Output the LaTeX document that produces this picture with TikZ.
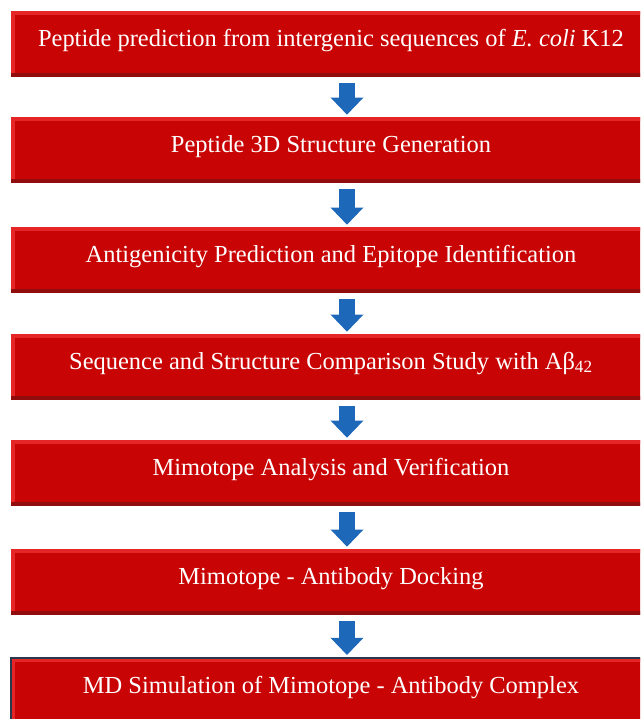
\documentclass[tikz,border=0pt]{standalone}
\usepackage{fontspec}
\setmainfont{Liberation Serif}
\usepackage{tikz}
\usetikzlibrary{arrows.meta, positioning, calc}
\definecolor{boxred}{RGB}{201,4,4}
\definecolor{boxlight}{RGB}{228,38,38}
\definecolor{boxdark}{RGB}{145,12,12}
\definecolor{arrowblue}{RGB}{30,104,186}
\definecolor{edgeblue}{RGB}{42,56,78}
\tikzset{
  stepbox/.style={
    rectangle, fill=boxred, text=white,
    minimum width=16cm, minimum height=1.65cm, inner sep=0pt,
    text height=0.7em, text depth=0.38em, align=center,
    path picture={
      \fill[boxlight] (path picture bounding box.north west) rectangle ([yshift=-0.11cm]path picture bounding box.north east);
      \fill[boxlight] (path picture bounding box.north west) rectangle ([xshift=0.1cm]path picture bounding box.south west);
      \fill[boxdark] (path picture bounding box.south west) rectangle ([yshift=0.09cm]path picture bounding box.south east);
    }
  },
  flowarrow/.style={
    draw=arrowblue, line width=0.4cm,
    -{Triangle[width=0.8cm, length=0.43cm]},
    shorten <=0.15cm, shorten >=0.05cm
  }
}
\begin{document}
\begin{tikzpicture}[x=0.025cm, y=-0.025cm, font=\fontsize{17.4pt}{20pt}\selectfont]
  \useasboundingbox (0,0) rectangle (640,719);
  \clip (0,0) rectangle (640,719);

  \node[stepbox] (s1) at (331,44) {Peptide prediction from intergenic sequences of \textit{E. coli} K12};
  \node[stepbox] (s2) at (331,150) {Peptide 3D Structure Generation};
  \node[stepbox] (s3) at (331,260) {Antigenicity Prediction and Epitope Identification};
  \node[stepbox] (s4) at (331,367) {Sequence and Structure Comparison Study with Aβ\textsubscript{42}};
  \node[stepbox] (s5) at (331,473) {Mimotope Analysis and Verification};
  \node[stepbox] (s6) at (331,582) {Mimotope - Antibody Docking};
  \node[stepbox, draw=edgeblue, line width=0.05cm] (s7) at (331,691) {MD Simulation of Mimotope - Antibody Complex};

  \draw[flowarrow] ([xshift=0.4cm]s1.south) -- ([xshift=0.4cm]s2.north);
  \draw[flowarrow] ([xshift=0.4cm]s2.south) -- ([xshift=0.4cm]s3.north);
  \draw[flowarrow] ([xshift=0.4cm]s3.south) -- ([xshift=0.4cm]s4.north);
  \draw[flowarrow] ([xshift=0.4cm]s4.south) -- ([xshift=0.4cm]s5.north);
  \draw[flowarrow] ([xshift=0.4cm]s5.south) -- ([xshift=0.4cm]s6.north);
  \draw[flowarrow] ([xshift=0.4cm]s6.south) -- ([xshift=0.4cm]s7.north);
\end{tikzpicture}
\end{document}
